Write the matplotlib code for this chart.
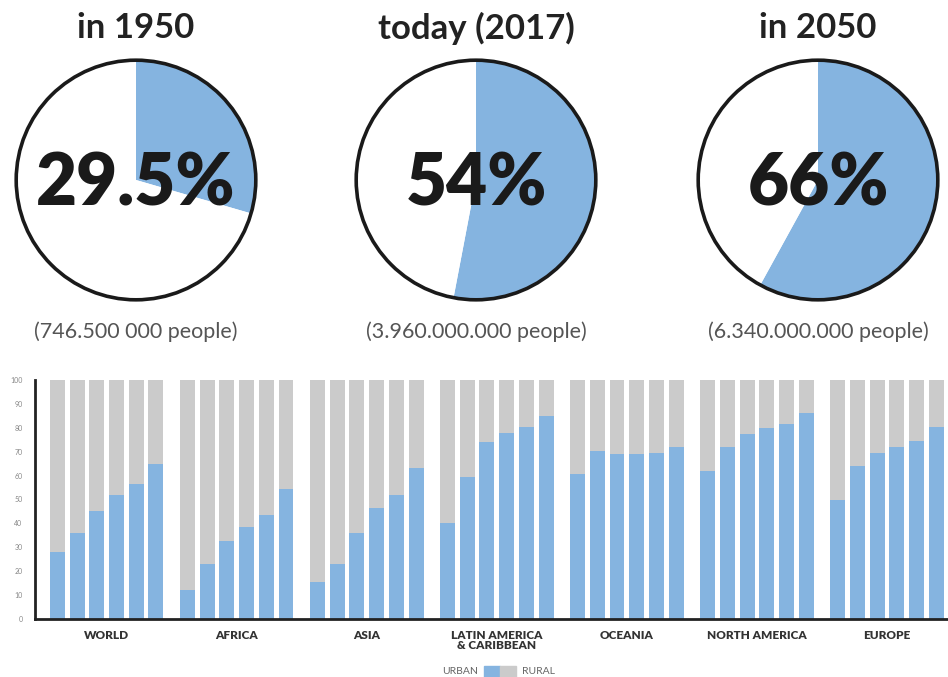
import matplotlib
matplotlib.use('Agg')
import matplotlib.pyplot as plt
import numpy as np
from matplotlib.patches import Circle, Rectangle

plt.rcParams['font.family'] = ['Lato', 'DejaVu Sans']

# top: share of urban population
pie_titles = ['in 1950', 'today (2017)', 'in 2050']
pie_labels = ['29.5%', '54%', '66%']
pie_share = [29.5, 53, 58]          # wedge size as drawn in the picture
pie_people = ['(746.500 000 people)', '(3.960.000.000 people)', '(6.340.000.000 people)']

# bottom: urban % by region, six time points each
regions = ['WORLD', 'AFRICA', 'ASIA', 'LATIN AMERICA\n& CARIBBEAN', 'OCEANIA', 'NORTH AMERICA', 'EUROPE']
urban = [
    [28, 36, 45, 52, 56.5, 65],
    [12, 23, 32.5, 38.5, 43.5, 54.5],
    [15.5, 23, 36, 46.5, 52, 63],
    [40, 59.5, 74, 78, 80.5, 85],
    [60.5, 70.5, 69, 69, 69.5, 72],
    [62, 72, 77.5, 80, 81.5, 86],
    [50, 64, 69.5, 72, 74.5, 80.5],
]
yticks = list(range(0, 101, 10))

blue = '#85b4e0'
grey = '#cbcbcb'
W, H = 948, 677

fig = plt.figure(figsize=(W / 100, H / 100), dpi=100)

centers = [136, 476, 818]   # pixel x of each circle
r = 120
cy = 180
for k in range(3):
    cx = centers[k]
    ax = fig.add_axes([(cx - r - 4) / W, 1 - (cy + r + 4) / H, (2 * r + 8) / W, (2 * r + 8) / H])
    ax.pie([pie_share[k], 100 - pie_share[k]], colors=[blue, 'white'], startangle=90,
           counterclock=False, radius=1, wedgeprops=dict(linewidth=0))
    ax.add_patch(Circle((0, 0), 1, fill=False, lw=2.6, ec='#1a1a1a', clip_on=False))
    ax.set_xlim(-1.035, 1.035)
    ax.set_ylim(-1.035, 1.035)
    ax.set_aspect('equal')
    ax.axis('off')
    ax.text(0, -0.04, pie_labels[k], ha='center', va='center', fontsize=51,
            fontweight='heavy', color='#1a1a1a')
    fig.text(cx / W, 1 - 28 / H, pie_titles[k], ha='center', va='center',
             fontsize=25, fontweight='bold', color='#222222')
    fig.text(cx / W, 1 - 332 / H, pie_people[k], ha='center', va='center',
             fontsize=15.5, color='#555555')

# bar chart
bx = fig.add_axes([35 / W, 1 - 619 / H, (W - 35) / W, (619 - 380) / H])
step = 6.6
x = []
for g in range(len(regions)):
    for i in range(6):
        x.append(g * step + i)
x = np.array(x)
u = np.array([v for row in urban for v in row])
bx.bar(x, u, width=0.76, color=blue, linewidth=0)
bx.bar(x, 100 - u, bottom=u, width=0.76, color=grey, linewidth=0)
bx.set_xlim(-1.14, 45.2)
bx.set_ylim(0, 100)
bx.set_yticks(yticks)
bx.set_yticklabels([str(t) for t in yticks], fontsize=5, color='#888888')
bx.set_xticks([g * step + 2.5 for g in range(len(regions))])
bx.set_xticklabels(regions, fontsize=8.5, fontweight='heavy', color='#333333', linespacing=0.9)
bx.tick_params(axis='y', length=0, pad=9)
bx.tick_params(axis='x', length=0, pad=8)
for s in ['top', 'right']:
    bx.spines[s].set_visible(False)
for s in ['left', 'bottom']:
    bx.spines[s].set_linewidth(2)
    bx.spines[s].set_color('#222222')

# legend
fig.text(478 / W, 1 - 672 / H, 'URBAN', ha='right', va='center', fontsize=7.5, color='#666666')
fig.text(522 / W, 1 - 672 / H, 'RURAL', ha='left', va='center', fontsize=7.5, color='#666666')
fig.patches.append(Rectangle((484 / W, 1 - 678 / H), 16 / W, 12 / H, color=blue, transform=fig.transFigure))
fig.patches.append(Rectangle((500 / W, 1 - 678 / H), 16 / W, 12 / H, color=grey, transform=fig.transFigure))

fig.savefig('out.png', dpi=100)
